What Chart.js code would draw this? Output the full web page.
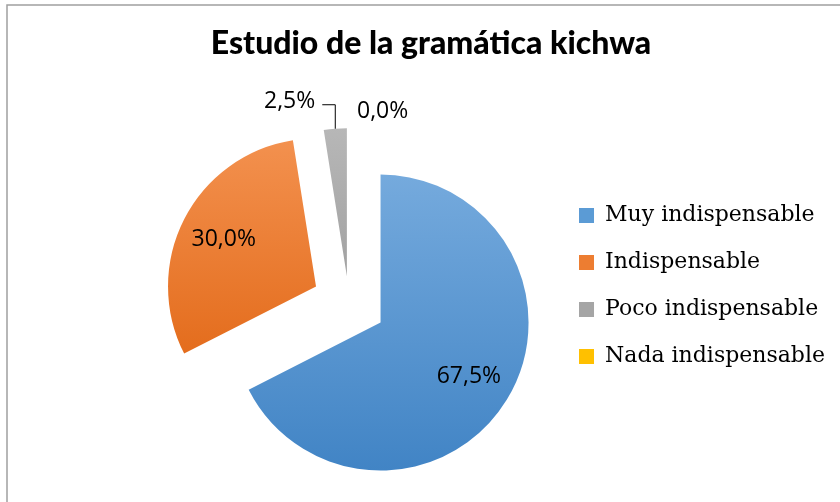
<!DOCTYPE html>
<html>
<head>
<meta charset="utf-8">
<script src="https://cdn.jsdelivr.net/npm/chart.js@4.4.1/dist/chart.umd.min.js"></script>
<style>
  html, body { margin: 0; padding: 0; background: #fff; }
  canvas { display: block; }
</style>
</head>
<body>
<canvas id="chart" width="840" height="502"></canvas>
<script>
// ===== DATA =====
const categories = ["Muy indispensable", "Indispensable", "Poco indispensable", "Nada indispensable"];
const percentages = [67.5, 30.0, 2.5, 0.0];

// ===== STYLE =====
const topColors = ["#75aadd", "#f3914f", "#b7b7b7", "#ffc82a"];
const bottomColors = ["#4184c5", "#de5f0a", "#8c8c8c", "#f0b400"];
const legendColors = ["#5b9bd5", "#ed7d31", "#a5a5a5", "#ffc000"];
const explode = [37, 37, 27, 0]; // px each slice is pulled out
const pieRadius = 148;
const pieCenterX = 349; // pie sits left of the title centre

function fmt(v) {
    return v.toFixed(1).replace(".", ",") + "%";
}

// vertical gradient per slice, like the Office style
function sliceGradient(context) {
    const chart = context.chart;
    const area = chart.chartArea;
    const i = context.dataIndex;
    if (!area) return legendColors[i];
    const cy = (area.top + area.bottom) / 2;
    const g = chart.ctx.createLinearGradient(0, cy - pieRadius, 0, cy + pieRadius);
    g.addColorStop(0, topColors[i]);
    g.addColorStop(1, bottomColors[i]);
    return g;
}

// where slice i really ends up (shifted + pulled out)
function sliceApex(arc, i) {
    const mid = (arc.startAngle + arc.endAngle) / 2;
    return {
        mid: mid,
        x: pieCenterX + Math.cos(mid) * explode[i],
        y: arc.y + Math.sin(mid) * explode[i]
    };
}

// ===== PLUGINS =====
// draw slices pulled out from the centre
const explodePlugin = {
    id: "explode",
    beforeDatasetDraw(chart, args) {
        const ctx = chart.ctx;
        args.meta.data.forEach((arc, i) => {
            const a = sliceApex(arc, i);
            ctx.save();
            ctx.translate(a.x - arc.x, a.y - arc.y);
            arc.draw(ctx);
            ctx.restore();
        });
        return false;
    }
};

// percentage labels
const labelPlugin = {
    id: "pctLabels",
    afterDatasetsDraw(chart) {
        const ctx = chart.ctx;
        const arcs = chart.getDatasetMeta(0).data;
        ctx.save();
        ctx.font = "23px 'Open Sans'";
        ctx.fillStyle = "#000";
        ctx.textBaseline = "middle";
        arcs.forEach((arc, i) => {
            const a = sliceApex(arc, i);
            const r = arc.outerRadius;
            const cos = Math.cos(a.mid), sin = Math.sin(a.mid);
            const text = fmt(percentages[i]);
            if (percentages[i] >= 10) {
                ctx.textAlign = "center";
                ctx.fillText(text, a.x + cos * r * 0.7, a.y + sin * r * 0.7);
            } else if (percentages[i] > 0) {
                // outside label with leader line
                const tx = a.x + cos * r;
                const ty = a.y + sin * r;
                ctx.strokeStyle = "#000";
                ctx.lineWidth = 1;
                ctx.beginPath();
                ctx.moveTo(tx, ty);
                ctx.lineTo(tx, ty - 24);
                ctx.lineTo(tx - 13, ty - 24);
                ctx.stroke();
                ctx.textAlign = "right";
                ctx.fillText(text, tx - 20, ty - 27);
            } else {
                ctx.textAlign = "left";
                ctx.fillText(text, a.x + cos * (r + 44) + 8, a.y + sin * (r + 44));
            }
        });
        ctx.restore();
    }
};

// chart frame (top and left edge only visible)
const framePlugin = {
    id: "frame",
    afterDraw(chart) {
        const ctx = chart.ctx;
        ctx.save();
        ctx.strokeStyle = "#a0a0a0";
        ctx.lineWidth = 1.5;
        ctx.beginPath();
        ctx.moveTo(7, 502);
        ctx.lineTo(7, 5);
        ctx.lineTo(840, 5);
        ctx.stroke();
        ctx.restore();
    }
};

// ===== CHART =====
new Chart(document.getElementById("chart"), {
    type: "pie",
    data: {
        labels: categories,
        datasets: [{
            data: percentages,
            backgroundColor: sliceGradient,
            borderWidth: 0
        }]
    },
    options: {
        responsive: false,
        animation: false,
        devicePixelRatio: 1,
        radius: pieRadius,
        layout: {
            padding: { top: 0, left: 27, right: 5, bottom: 75 }
        },
        plugins: {
            title: {
                display: true,
                text: "Estudio de la gramática kichwa",
                color: "#000",
                font: { family: "Lato", size: 32, weight: "900" },
                padding: { top: 24, bottom: 117 }
            },
            legend: {
                position: "right",
                align: "start",
                fullSize: false,
                labels: {
                    color: "#000",
                    font: { family: "'DejaVu Serif'", size: 22 },
                    boxWidth: 15,
                    boxHeight: 15,
                    padding: 25,
                    generateLabels: chart => categories.map((c, i) => ({
                        text: c,
                        fillStyle: legendColors[i],
                        strokeStyle: legendColors[i],
                        lineWidth: 0,
                        hidden: false,
                        index: i
                    }))
                }
            },
            tooltip: { enabled: false }
        }
    },
    plugins: [explodePlugin, labelPlugin, framePlugin]
});
</script>
</body>
</html>
